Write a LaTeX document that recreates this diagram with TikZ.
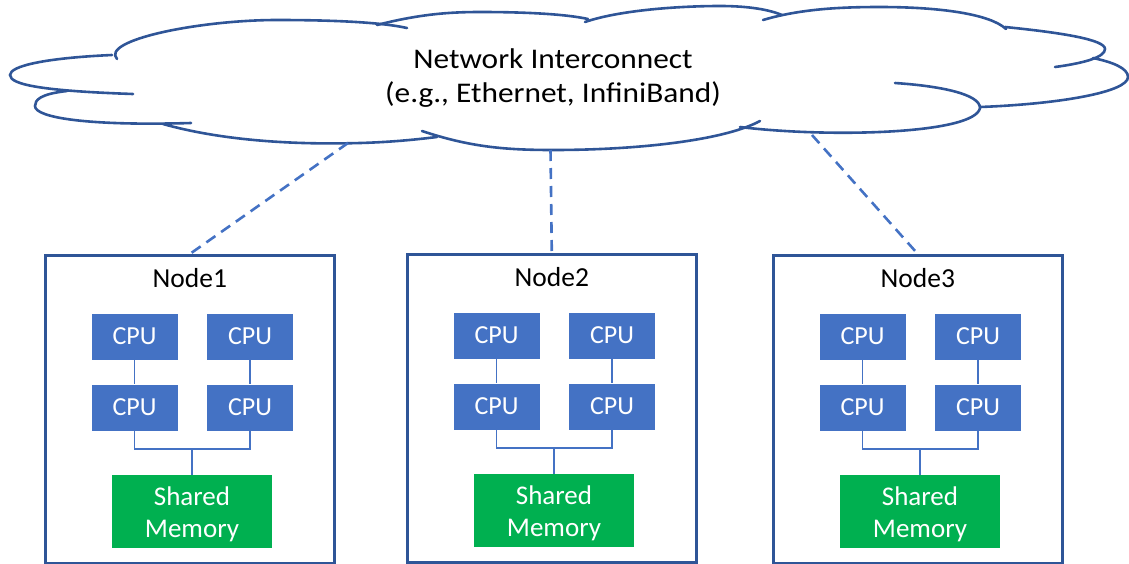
\documentclass[tikz,border=0pt]{standalone}
\usepackage{fontspec}
\setmainfont{Carlito}
\usetikzlibrary{calc}
\definecolor{cpublue}{HTML}{4472C4}
\definecolor{memgreen}{HTML}{00B050}
\definecolor{edgeblue}{HTML}{2F5597}
\tikzset{
  cpubox/.style={fill=cpublue, text=white, minimum width=86pt, minimum height=46pt, inner sep=0pt, font=\fontsize{26}{32}\selectfont},
  membox/.style={fill=memgreen, text=white, minimum width=160pt, minimum height=73pt, inner sep=0pt, align=center, font=\fontsize{27}{32}\selectfont},
  nodebox/.style={draw=edgeblue, line width=2.6pt, minimum width=289pt, minimum height=308pt, inner sep=0pt},
  titletext/.style={anchor=base, font=\fontsize{27.5}{32}\selectfont, inner sep=0pt},
  bus/.style={draw=cpublue, line width=1.5pt},
  dashlink/.style={draw=cpublue, line width=2.6pt, dash pattern=on 11pt off 7pt},
  cloudline/.style={draw=edgeblue, line width=2.6pt, line cap=round},
  cloudtext/.style={align=center, inner sep=0pt, font=\fontsize{28.5}{34}\selectfont},
}
\newcommand{\wideline}[1]{\scalebox{1.1}[1]{#1}}
\newcommand{\smpnode}[4]{%
  \node[nodebox, anchor=north west] (#1box) at (#2,#3) {};
  \node[titletext] (#1title) at ($(#1box.north)+(0,33.5)$) {#4};
  \node[cpubox] (#1c1) at ($(#1box.north west)+(90.5,82.5)$) {CPU};
  \node[cpubox] (#1c2) at ($(#1box.north west)+(206,82.5)$) {CPU};
  \node[cpubox] (#1c3) at ($(#1box.north west)+(90.5,153.5)$) {CPU};
  \node[cpubox] (#1c4) at ($(#1box.north west)+(206,153.5)$) {CPU};
  \node[membox] (#1mem) at ($(#1box.north west)+(148,257.5)$) {\rule{0pt}{25pt}Shared\\Memory};
  \coordinate (#1bus) at ($(#1mem.north)+(0,-26)$);
  \draw[bus] (#1c1.south) -- (#1c3.north);
  \draw[bus] (#1c2.south) -- (#1c4.north);
  \draw[bus] (#1c3.south) |- (#1bus) -| (#1c4.south);
  \draw[bus] (#1bus) -- (#1mem.north);
}
\begin{document}
\begin{tikzpicture}[x=1pt,y=-1pt]
\useasboundingbox (0,0) rectangle (1129,563);
% cloud
\draw[cloudline] (117,59) .. controls (100,40) and (200,20) .. (277,20) .. controls (330,20) and (380,22) .. (407,28);
\draw[cloudline] (112,55) .. controls (45,58) and (10,66) .. (10,75) .. controls (10,85) and (45,91) .. (133,94);
\draw[cloudline] (67,91) .. controls (40,94) and (35,100) .. (35,106) .. controls (35,118) and (90,126) .. (191,123);
\draw[cloudline] (163,124) .. controls (220,140) and (290,145) .. (360,143) .. controls (395,142) and (420,139) .. (437,137);
\draw[cloudline] (422,131) .. controls (470,147) and (505,150) .. (553,150) .. controls (640,150) and (725,140) .. (760,121);
\draw[cloudline] (740,127) .. controls (830,138) and (975,134) .. (980,108) .. controls (980,94) and (940,86) .. (895,83);
\draw[cloudline] (980,107) .. controls (1060,104) and (1128,92) .. (1128,77) .. controls (1128,68) and (1112,62) .. (1093,58);
\draw[cloudline] (1005,27) .. controls (1065,33) and (1105,40) .. (1105,49) .. controls (1105,57) and (1085,63) .. (1055,67);
\draw[cloudline] (763,20) .. controls (800,9) and (840,7) .. (880,7) .. controls (940,7) and (990,14) .. (1006,29);
\draw[cloudline] (585,22) .. controls (620,10) and (680,6) .. (720,6) .. controls (750,6) and (770,10) .. (782,15);
\draw[cloudline] (377,25) .. controls (420,14) and (450,12) .. (480,12) .. controls (525,12) and (565,14) .. (588,19);
\node[cloudtext] (net) at (553,78) {\wideline{Network Interconnect}\\\wideline{(e.g., Ethernet, InfiniBand)}};
\coordinate (p1) at (348,143);
\coordinate (p2) at (550.5,150);
\coordinate (p3) at (812,135);
% compute nodes
\smpnode{a}{44}{254}{Node1}
\smpnode{b}{406}{253}{Node2}
\smpnode{c}{772}{254}{Node3}
% links
\draw[dashlink] (p1) -- (abox.north);
\draw[dashlink] (p2) -- (bbox.north);
\draw[dashlink] (p3) -- (cbox.north);
\end{tikzpicture}
\end{document}
